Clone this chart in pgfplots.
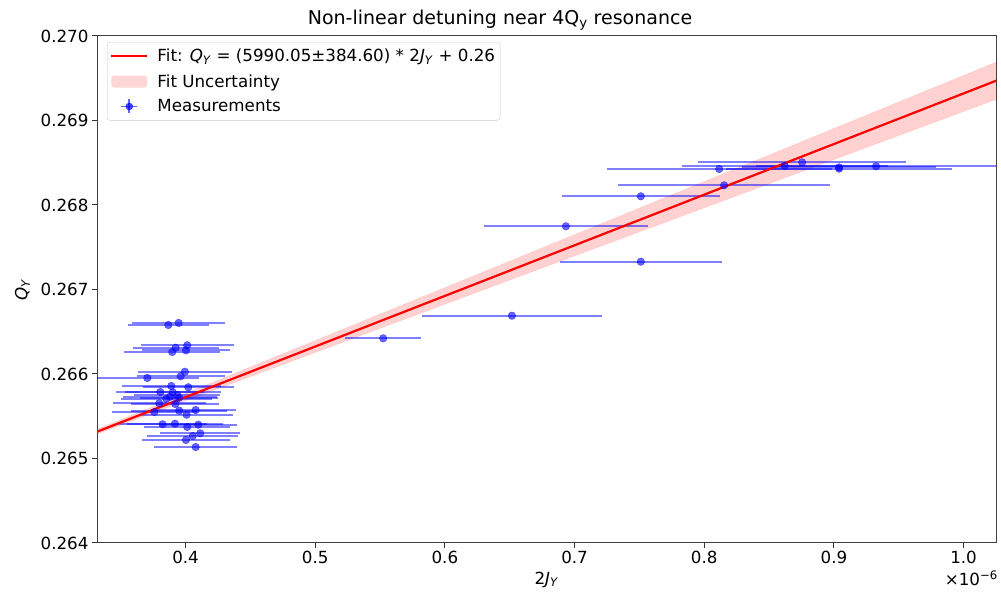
\documentclass[border=0pt]{standalone}
\usepackage{fontspec}
\setmainfont{DejaVu Sans}
\usepackage{pgfplots}
\pgfplotsset{compat=1.18}
\usepackage{pgfplotstable}
\usepgfplotslibrary{fillbetween}

\pgfplotstableread{
x y ex
0.3867 0.266580 0.031
0.3947 0.266604 0.036
0.3924 0.266311 0.033
0.4013 0.266340 0.036
0.3897 0.266260 0.037
0.4003 0.266280 0.034
0.3995 0.266027 0.036
0.3962 0.265973 0.034
0.3705 0.265953 0.040
0.3890 0.265858 0.038
0.4021 0.265843 0.035
0.3805 0.265787 0.034
0.3901 0.265783 0.037
0.3936 0.265751 0.033
0.3880 0.265731 0.036
0.3851 0.265707 0.035
0.3951 0.265719 0.030
0.3797 0.265653 0.036
0.3921 0.265645 0.034
0.3759 0.265550 0.033
0.3951 0.265566 0.037
0.4078 0.265574 0.031
0.4008 0.265518 0.036
0.3823 0.265405 0.034
0.3918 0.265412 0.037
0.4013 0.265373 0.033
0.4098 0.265400 0.030
0.4113 0.265298 0.031
0.4055 0.265266 0.035
0.4003 0.265219 0.034
0.4078 0.265136 0.032
0.5524 0.266422 0.0293
0.6517 0.266690 0.0692
0.6933 0.267748 0.0631
0.7511 0.267329 0.0625
0.7511 0.268103 0.0607
0.8153 0.268233 0.0817
0.8115 0.268426 0.0868
0.8621 0.268462 0.0794
0.8755 0.268505 0.0800
0.9040 0.268430 0.0871
0.9040 0.268445 0.0750
0.9325 0.268458 0.0925
}\meas

\pgfplotstableread{
x up lo
0.30 0.265149 0.265105
0.40 0.265769 0.265683
0.50 0.266395 0.266255
0.60 0.267022 0.266826
0.70 0.267649 0.267397
0.80 0.268277 0.267967
0.90 0.268905 0.268537
1.00 0.269533 0.269107
1.05 0.269847 0.269393
}\band

\newcommand{\fs}{\fontsize{16.7}{20}\selectfont}

\begin{document}
\begin{tikzpicture}
\begin{axis}[
  scale only axis,
  width=899pt, height=507pt,
  xmin=0.3317, xmax=1.025,
  ymin=0.264, ymax=0.270,
  xtick={0.4,0.5,0.6,0.7,0.8,0.9,1.0},
  ytick={0.264,0.265,0.266,0.267,0.268,0.269,0.270},
  xticklabel style={/pgf/number format/.cd, fixed, fixed zerofill, precision=1, assume math mode=true},
  yticklabel style={/pgf/number format/.cd, fixed, fixed zerofill, precision=3, assume math mode=true},
  scaled x ticks=false, scaled y ticks=false,
  tick label style={font=\fs},
  xtick pos=left, ytick pos=left,
  tick align=outside,
  major tick length=5pt,
  tick style={black!80, line width=1pt},
  axis line style={black!75, line width=1pt},
  title={Non-linear detuning near 4Q\textsubscript{y} resonance},
  title style={font=\fontsize{19}{23}\selectfont, at={(axis description cs:0.4483,1.0197)}, anchor=center},
  xlabel={2\textit{J}\textsubscript{\textit{Y}}},
  ylabel={\textit{Q}\textsubscript{\textit{Y}}},
  xlabel style={font=\fs, at={(axis description cs:0.5,-0.072)}, anchor=center},
  ylabel style={font=\fs, at={(axis description cs:-0.083,0.5)}, anchor=center},
  legend style={at={(axis description cs:0.0111,0.988)}, anchor=north west,
    draw=black!20, rounded corners=3pt, fill=white, fill opacity=0.8, text opacity=1,
    font=\fs, row sep=7pt, inner sep=3pt, inner ysep=5pt, cells={anchor=west}},
  legend cell align=left,
]
\addlegendimage{legend image code/.code={\draw[red, line width=2.2pt] (0pt,0pt) -- (36pt,0pt); \node[inner sep=0pt, draw=none, fill=none] at (43pt,0pt) {};}}
\addlegendentry{{Fit: \textit{Q}\textsubscript{\textit{Y}} = (5990.05±384.60) * 2\textit{J}\textsubscript{\textit{Y}} + 0.26}}
\addlegendimage{legend image code/.code={\path[fill=red!20, draw=none] (0pt,-6pt) rectangle (36pt,6pt); \node[inner sep=0pt, draw=none, fill=none] at (43pt,0pt) {};}}
\addlegendentry{Fit Uncertainty}
\addlegendimage{legend image code/.code={
  \draw[blue, opacity=0.6, line width=1.8pt] (10pt,0pt) -- (26pt,0pt);
  \draw[blue, opacity=0.6, line width=1.8pt] (18pt,-7pt) -- (18pt,7pt);
  \fill[blue, opacity=0.7] (18pt,0pt) circle (3.5pt);
  \node[inner sep=0pt, draw=none, fill=none] at (43pt,0pt) {};}}
\addlegendentry{Measurements}

\addplot[forget plot, only marks, mark=*, mark size=3.8pt,
  mark options={fill=blue, draw=blue, fill opacity=0.6, draw opacity=0.6},
  error bars/.cd, x dir=both, x explicit, error mark=none,
  error bar style={blue, opacity=0.5, line width=2pt}]
  table[x=x, y=y, x error=ex]{\meas};

\addplot[forget plot, name path=up, draw=none] table[x=x, y=up]{\band};
\addplot[forget plot, name path=lo, draw=none] table[x=x, y=lo]{\band};
\addplot[forget plot, fill=red, fill opacity=0.18, draw=red, draw opacity=0.12] fill between[of=up and lo];

\addplot[forget plot, red, line width=2.2pt] coordinates {(0.30,0.265127) (1.05,0.269620)};
\end{axis}
\node[anchor=east, font=\fs, inner sep=0pt] at (901pt,-35pt) {×10\textsuperscript{−6}};
\pgfresetboundingbox
\useasboundingbox (-97pt,-53pt) rectangle (904pt,543pt);
\end{tikzpicture}
\end{document}
